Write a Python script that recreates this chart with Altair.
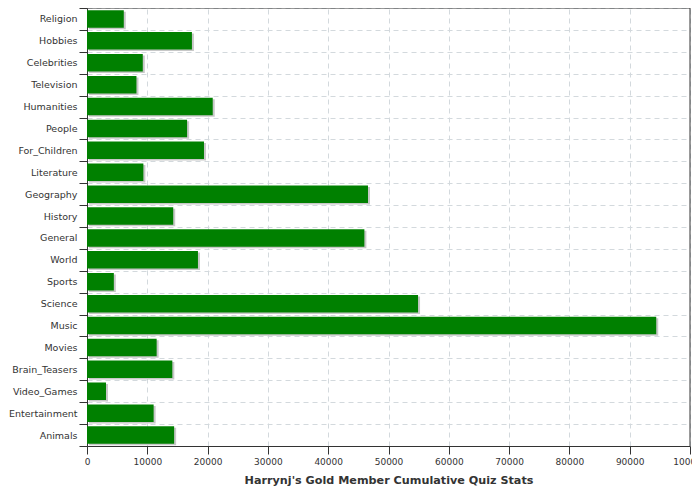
import altair as alt
import pandas as pd

categories = ["Religion", "Hobbies", "Celebrities", "Television", "Humanities", "People",
              "For_Children", "Literature", "Geography", "History", "General", "World",
              "Sports", "Science", "Music", "Movies", "Brain_Teasers", "Video_Games",
              "Entertainment", "Animals"]
values = [6100, 17400, 9250, 8200, 20850, 16600, 19400, 9350, 46600, 14300, 46000, 18400,
          4450, 54900, 94400, 11550, 14150, 3150, 11050, 14450]
x_ticks = [0, 10000, 20000, 30000, 40000, 50000, 60000, 70000, 80000, 90000, 100000]

df = pd.DataFrame({"category": categories, "value": values})

FONT = "DejaVu Sans"
TXT = "#333333"
GRID = "#d3d9dd"
W, H = 603, 438

x_enc = alt.X("value:Q",
              scale=alt.Scale(domain=[0, 100000], nice=False),
              axis=alt.Axis(values=x_ticks, format="d", title="Harrynj's Gold Member Cumulative Quiz Stats",
                            grid=True, gridDash=[5, 4], gridColor=GRID,
                            tickSize=8, labelPadding=3, labelFlush=False,
                            labelFontSize=9, labelFont=FONT, labelColor=TXT,
                            titleFont=FONT, titleFontSize=11.2, titleFontWeight="bold",
                            titleColor=TXT, titlePadding=8,
                            domainColor=TXT, tickColor=TXT))
y_enc = alt.Y("category:N", sort=None,
              scale=alt.Scale(paddingInner=0, paddingOuter=0),
              axis=alt.Axis(title=None, tickBand="extent", grid=True, gridDash=[5, 4],
                            gridColor=GRID, tickSize=8, labelPadding=2,
                            labelFontSize=9.5, labelFont=FONT, labelColor=TXT,
                            domainColor=TXT, tickColor=TXT))

base = alt.Chart(df)
shadow = base.mark_bar(color="#c8c8c8", xOffset=2, yOffset=1.5,
                       height=alt.RelativeBandSize(0.8)).encode(x=x_enc, y=y_enc)
bars = base.mark_bar(color="#008000", height=alt.RelativeBandSize(0.8)).encode(x=x_enc, y=y_enc)

frame_top = alt.Chart(pd.DataFrame({"k": [0]})).mark_rule(color=TXT, strokeWidth=1).encode(
    x=alt.value(0), x2=alt.value(W), y=alt.value(0))
frame_right = alt.Chart(pd.DataFrame({"k": [0]})).mark_rule(color=TXT, strokeWidth=1).encode(
    x=alt.value(W), y=alt.value(0), y2=alt.value(H))

chart = alt.layer(shadow, bars, frame_top, frame_right).properties(
    width=W, height=H,
    autosize=alt.AutoSizeParams(type="none"),
    padding={"left": 79, "top": 0, "right": 2, "bottom": 40},
).configure_view(stroke=None)

chart.save("out.html", embed_options={"renderer": "svg", "actions": False})
